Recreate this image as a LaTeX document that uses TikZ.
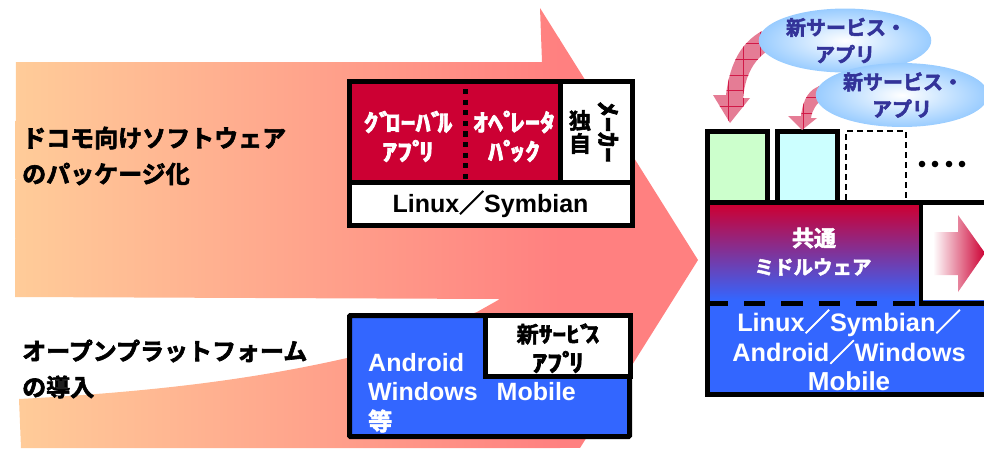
\documentclass[tikz,border=0pt]{standalone}
\usepackage{fontspec}
\usepackage{graphicx}
\newfontfamily\jp{Noto Sans CJK JP}[BoldFont={Noto Sans CJK JP Bold},BoldFeatures={FakeBold=2.6}]
\newfontfamily\lat{Liberation Sans}
\definecolor{crim}{HTML}{CC0033}
\definecolor{blu}{HTML}{3366FF}
\definecolor{peach}{HTML}{FFCC99}
\definecolor{salmon}{HTML}{FF8080}
\definecolor{navy2}{HTML}{333399}
\definecolor{pinka}{HTML}{E57C95}
\definecolor{sky}{HTML}{99CCFF}
\definecolor{mint}{HTML}{CCFFCC}
\definecolor{icy}{HTML}{CCFFFF}
\usetikzlibrary{shapes.geometric}
\newcommand{\fs}[1]{\fontsize{#1}{#1}\selectfont}
\newcommand{\sla}{{\jp\bfseries ／}}
\newcommand{\dk}{ﾞ\kern-6.5pt}
\newcommand{\hd}{ﾟ\kern-6.5pt}
\newcommand{\wide}[1]{\scalebox{1.25}[1]{#1}}
\tikzset{
  pic/.style={x=1pt,y=-1pt},
  blk/.style={draw=black,line width=5pt},
  head/.style={font=\jp\bfseries\fs{24},anchor=west,align=left,inner sep=0pt,text=black},
  halfw/.style={font=\jp\bfseries\fs{24},align=center,inner sep=0pt,text=white},
  latin/.style={font=\lat\bfseries\fs{25},inner sep=0pt},
  rlatin/.style={font=\lat\bfseries\fs{25.3},inner sep=0pt,text=white},
  bubble/.style={ellipse,minimum width=172pt,minimum height=54pt,inner sep=0pt,inner color=white,outer color=sky,align=center,text=navy2,font=\jp\bfseries\fs{20}},
  grid/.style={draw=crim!80!pinka,line width=0.5pt},
}
\begin{document}
\begin{tikzpicture}[pic]
\useasboundingbox (0,0) rectangle (984,448);
% big arrow
\begin{scope}
\clip (16,62) -- (542,62) -- (540,8) -- (698,260) -- (580,448) -- (21,448) -- (19,399)
  .. controls (150,392) and (250,380) .. (347,358) -- (477,312) -- (500,299) -- (15,297) -- cycle;
\shade[left color=peach,right color=salmon] (15,0) rectangle (560,448);
\fill[salmon] (559,0) rectangle (700,448);
\end{scope}
\node[head] (t1) at (22,138) {ドコモ向けソフトウェア};
\node[head] (t2) at (22,174) {のパッケージ化};
\node[head] (t3) at (22,351) {オープンプラットフォーム};
\node[head] (t4) at (22,387) {の導入};
% top box
\filldraw[blk,fill=crim] (349.5,81.5) rectangle (560.5,182);
\filldraw[blk,fill=white] (560.5,81.5) rectangle (632,182);
\filldraw[blk,fill=white] (349.5,182) rectangle (632,225);
\draw[line width=5pt,dash pattern=on 5.2pt off 5.4pt] (465,89) -- (465,180);
\node[halfw] (g1) at (408,122) {\wide{ｸ\dk ﾛｰﾊ\dk ﾙ}};
\node[halfw] (g2) at (408,151) {\wide{ｱﾌ\hd ﾘ}};
\node[halfw] (o1) at (514,122) {\wide{ｵﾍ\hd ﾚｰﾀ}};
\node[halfw] (o2) at (514,151) {\wide{ﾊ\hd ｯｸ}};
\node[font=\jp\bfseries\fs{24},inner sep=0pt,rotate=-90] (m1) at (608,132) {\scalebox{1.27}[1]{ﾒｰｶｰ}};
\node[font=\jp\bfseries\fs{22},inner sep=0pt,align=center] (m2) at (580,132) {独\\[1pt]自};
\node[latin] (ls) at (490.5,204) {Linux\sla Symbian};
% bottom box
\filldraw[blk,fill=blu,rounded corners=1pt] (349.5,315.5) rectangle (629.5,436.5);
\filldraw[blk,fill=white] (485,315.5) rectangle (630.5,376.5);
\node[font=\jp\bfseries\fs{22},inner sep=0pt] (n1) at (558,334) {新\wide{ｻｰﾋ\dk ｽ}};
\node[font=\jp\bfseries\fs{24},inner sep=0pt] (n2) at (558,362) {\wide{ｱﾌ\hd ﾘ}};
\node[latin,text=white,anchor=west] (a1) at (368,363) {Android};
\node[latin,text=white,anchor=west] (a2) at (368,392) {Windows\hspace{19pt}Mobile};
\node[font=\jp\bfseries\fs{24},text=white,anchor=west,inner sep=0pt] (a3) at (368,421) {等};
% right stack
\filldraw[blk,fill=mint] (707.5,131.5) rectangle (767.5,202);
\filldraw[blk,fill=icy] (777.5,131.5) rectangle (837,202);
\draw[line width=1.5pt,dash pattern=on 6pt off 4pt] (846,200) -- (846,131) -- (906,131) -- (906,200);
\foreach \px in {922,935,949,962} \fill (\px,164) circle (3.3);
% main
\fill[white] (707,202) rectangle (984,395);
\shade[top color=crim,bottom color=blu] (710,205) rectangle (919,300);
\fill[blu] (710,300) rectangle (984,392);
\draw[line width=5pt] (984,202.5) -- (707.5,202.5) -- (707.5,394.5) -- (984,394.5);
\draw[line width=4pt] (921,202) -- (921,303);
\draw[line width=5pt] (919,303.5) -- (984,303.5);
\draw[line width=5pt,dash pattern=on 21.3pt off 16pt,dash phase=3.3pt] (710,303.5) -- (917,303.5);
\shade[left color=white,right color=crim] (933,232) -- (958,232) -- (958,215) -- (985,253) -- (958,292) -- (958,275) -- (933,275) -- cycle;
\node[font=\jp\bfseries\fs{22},text=white,inner sep=0pt] (c1) at (814,238) {共通};
\node[font=\jp\bfseries\fs{19.5},text=white,inner sep=0pt] (c2) at (813,267) {ミドルウェア};
\node[rlatin] (r1) at (849,323) {Linux\sla Symbian\sla};
\node[rlatin] (r2) at (849,352) {Android\sla Windows};
\node[rlatin,font=\lat\bfseries\fs{26}] (r3) at (849,381) {Mobile};
% curved arrows
\begin{scope}
\clip (762,31) .. controls (742,42) and (730,62) .. (726,95) -- (713,95) -- (730,123) -- (750,98) -- (743,98) .. controls (745,78) and (752,62) .. (766,52) -- cycle;
\fill[pinka] (705,20) rectangle (775,130);
\foreach \gx in {728,743,760} \draw[grid] (\gx,20) -- (\gx,130);
\foreach \gy in {43,59,75,90,106} \draw[grid] (705,\gy) -- (775,\gy);
\end{scope}
\begin{scope}
\clip (820,86) .. controls (810,89) and (803,98) .. (801,116) -- (788,116) -- (802,130) -- (817,118) -- (811,118) .. controls (812,110) and (816,104) .. (824,98) -- cycle;
\fill[pinka] (785,80) rectangle (830,132);
\foreach \gx in {803,818} \draw[grid] (\gx,80) -- (\gx,132);
\foreach \gy in {97,113} \draw[grid] (785,\gy) -- (830,\gy);
\end{scope}
% bubbles
\node[bubble] (b1) at (845,40.5) {\hspace{2pt}\raisebox{1pt}{新サービス・}\\[6pt]アプリ};
\node[bubble] (b2) at (902,95) {\hspace{2pt}\raisebox{1pt}{新サービス・}\\[6pt]アプリ};
\end{tikzpicture}
\end{document}
